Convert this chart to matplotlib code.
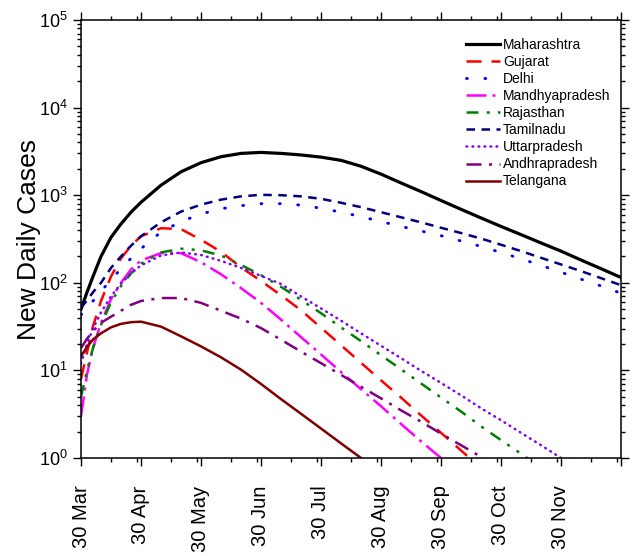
import numpy as np
import matplotlib
matplotlib.use("Agg")
import matplotlib.pyplot as plt
from matplotlib.ticker import LogLocator, LogFormatterSciNotation, FixedLocator

plt.rcParams['font.family'] = ['Liberation Sans', 'DejaVu Sans']

# days since 30 Mar
days = [0, 3, 6, 10, 15, 20, 25, 30, 40, 50, 60, 70, 80, 90, 100, 110, 120, 130,
        140, 150, 160, 170, 180, 190, 200, 210, 220, 230, 240, 250, 260, 270]

maharashtra = [50, 78, 118, 200, 330, 470, 640, 830, 1300, 1850, 2350, 2750, 3000, 3080,
               3000, 2880, 2720, 2500, 2140, 1740, 1380, 1100, 870, 690, 550, 440, 355,
               285, 230, 182, 145, 115]
gujarat = [8, 16, 32, 62, 118, 190, 265, 340, 420, 410, 310, 226, 150, 105, 72, 48.6,
           30.7, 19.4, 12.2, 7.7, 4.9, 3.07, 1.94, 1.22, 0.77]
delhi = [43, 50, 62, 80, 108, 145, 190, 245, 380, 500, 610, 700, 760, 800, 800, 770, 710,
         640, 570, 500, 440, 390, 345, 300, 260, 222, 188, 158, 132, 110, 92, 76]
mandhya = [3, 9, 18, 35, 65, 100, 142, 180, 218, 218, 172, 125, 87, 59, 38, 24, 15.2,
           9.6, 6.1, 3.9, 2.45, 1.55, 1.0, 0.63]
rajasthan = [5, 10, 18, 33, 60, 92, 128, 165, 222, 245, 235, 205, 160, 122, 90, 64, 45,
             31, 21.6, 14.9, 10.3, 7.1, 4.9, 3.4, 2.3, 1.6, 1.12, 0.77]
tamilnadu = [52, 63, 78, 100, 148, 200, 265, 340, 490, 650, 780, 890, 970, 1010, 1000,
             970, 910, 820, 730, 640, 560, 490, 425, 370, 320, 272, 230, 193, 162, 136,
             113, 94]
uttar = [12, 20, 30, 46, 70, 98, 128, 158, 205, 222, 208, 178, 148, 120, 97, 70, 51, 37,
         26.5, 19.1, 13.8, 9.9, 7.2, 5.2, 3.7, 2.7, 1.94, 1.4, 1.0, 0.72]
andhra = [18, 23, 28, 35, 41, 48, 56, 62, 67, 67, 59, 48, 39, 30.4, 22.4, 16.4, 12.1,
          8.9, 6.5, 4.8, 3.5, 2.6, 1.9, 1.4, 1.03, 0.76]
telangana = [14.5, 18.5, 22.5, 26.5, 31, 34, 35.5, 36, 31.6, 24.5, 18.8, 14.1, 10.2,
             7.0, 4.7, 3.2, 2.17, 1.47, 1.0, 0.68]

tick_days = [0, 30, 60, 90, 120, 150, 180, 210, 240, 270]
tick_labels = ['30 Mar', '30 Apr', '30 May', '30 Jun', '30 Jul', '30 Aug',
               '30 Sep', '30 Oct', '30 Nov', '']

fig = plt.figure(figsize=(6.35, 5.56), dpi=100)
ax = fig.add_axes([81 / 635, 98 / 556, 540 / 635, 438 / 556])

def draw(vals, label, color, ls, lw=1.8, cap='butt'):
    ax.plot(days[:len(vals)], vals, color=color, linestyle=ls, lw=lw,
            label=label, dash_capstyle=cap)

draw(maharashtra, 'Maharashtra', 'black', '-', lw=2.3)
draw(gujarat, 'Gujarat', '#FF0000', (0, (6, 4)))
draw(delhi, 'Delhi', '#0000FF', (0, (0.3, 6.0)), lw=2.1, cap='round')
draw(mandhya, 'Mandhyapradesh', '#FF00FF', (0, (8, 2.4, 1.2, 2.4)))
draw(rajasthan, 'Rajasthan', '#008000', (0, (4.8, 3.3, 1.2, 3.3, 1.2, 3.3)))
draw(tamilnadu, 'Tamilnadu', '#000080', (0, (3.4, 2.6)))
draw(uttar, 'Uttarpradesh', '#8000FF', (0, (0.3, 2.1)), cap='round')
draw(andhra, 'Andhrapradesh', '#800080', (0, (6, 3, 1.2, 3)))
draw(telangana, 'Telangana', '#800000', '-')

ax.set_yscale('log')
ax.set_xlim(0, 270)
ax.set_ylim(1, 1e5)

ax.set_xticks(tick_days)
ax.set_xticklabels(tick_labels, rotation=90, fontsize=14.5)
minor_x = sorted([15 + 30 * k for k in range(9)] + [28 + 30 * k for k in range(9)])
ax.xaxis.set_minor_locator(FixedLocator(minor_x))

ax.yaxis.set_major_locator(LogLocator(base=10, numticks=10))
ax.yaxis.set_minor_locator(LogLocator(base=10, subs=np.arange(2, 10), numticks=20))
ax.yaxis.set_major_formatter(LogFormatterSciNotation())
ax.tick_params(axis='y', labelsize=13)

ax.tick_params(which='both', direction='out', top=True, right=True, width=1.0)
ax.tick_params(which='major', length=5.8)
ax.tick_params(which='minor', length=3.2)
ax.tick_params(axis='x', which='major', pad=14)
for s in ax.spines.values():
    s.set_linewidth(1.1)

ax.set_ylabel('New Daily Cases', fontsize=19, labelpad=-1)

ax.legend(loc='upper left', bbox_to_anchor=(466 / 635, 1 - 38 / 556),
          bbox_transform=fig.transFigure, frameon=False, fontsize=10,
          handlelength=2.45, handletextpad=0.2, labelspacing=0.22,
          borderpad=0, borderaxespad=0)

fig.savefig('out.png', dpi=100)
